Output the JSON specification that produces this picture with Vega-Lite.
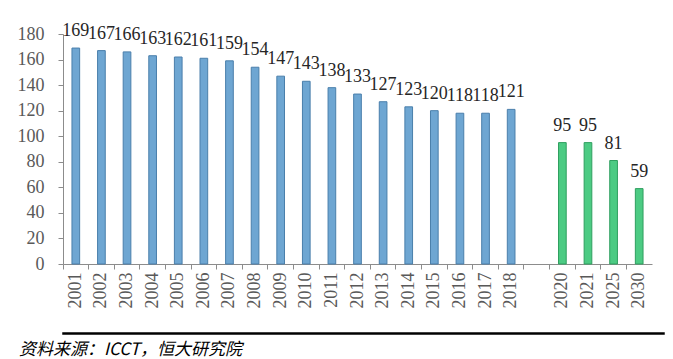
{
  "$schema": "https://vega.github.io/schema/vega-lite/v6.json",
  "background": "white",
  "padding": {"left": 5, "top": 22, "right": 8, "bottom": 5},
  "config": {"view": {"stroke": null}, "concat": {"spacing": 18}},
  "vconcat": [
    {
      "width": 589,
      "height": 230,
      "data": {"values": [
        {"year": "2001", "value": 169, "kind": "actual"},
        {"year": "2002", "value": 167, "kind": "actual"},
        {"year": "2003", "value": 166, "kind": "actual"},
        {"year": "2004", "value": 163, "kind": "actual"},
        {"year": "2005", "value": 162, "kind": "actual"},
        {"year": "2006", "value": 161, "kind": "actual"},
        {"year": "2007", "value": 159, "kind": "actual"},
        {"year": "2008", "value": 154, "kind": "actual"},
        {"year": "2009", "value": 147, "kind": "actual"},
        {"year": "2010", "value": 143, "kind": "actual"},
        {"year": "2011", "value": 138, "kind": "actual"},
        {"year": "2012", "value": 133, "kind": "actual"},
        {"year": "2013", "value": 127, "kind": "actual"},
        {"year": "2014", "value": 123, "kind": "actual"},
        {"year": "2015", "value": 120, "kind": "actual"},
        {"year": "2016", "value": 118, "kind": "actual"},
        {"year": "2017", "value": 118, "kind": "actual"},
        {"year": "2018", "value": 121, "kind": "actual"},
        {"year": "2020", "value": 95, "kind": "target"},
        {"year": "2021", "value": 95, "kind": "target"},
        {"year": "2025", "value": 81, "kind": "target"},
        {"year": "2030", "value": 59, "kind": "target"}
      ]},
      "encoding": {
        "x": {
          "field": "year", "type": "ordinal",
          "scale": {
            "domain": ["2001","2002","2003","2004","2005","2006","2007","2008","2009","2010","2011","2012","2013","2014","2015","2016","2017","2018","gap","2020","2021","2025","2030"],
            "paddingInner": 0, "paddingOuter": 0
          },
          "axis": {
            "title": null, "bandPosition": 0, "labelAngle": -90,
            "labelExpr": "datum.value == 'gap' ? '' : datum.value",
            "labelFont": "serif", "labelFontSize": 18, "labelColor": "#595959",
            "labelPadding": 3, "labelAlign": "right", "labelBaseline": "middle",
            "domainColor": "#8c8c8c", "tickColor": "#8c8c8c", "tickSize": 5, "grid": false
          }
        },
        "y": {
          "field": "value", "type": "quantitative",
          "scale": {"domain": [0, 180]},
          "axis": {
            "title": "\u00a0", "titleFontSize": 10, "titlePadding": 2,
            "values": [0,20,40,60,80,100,120,140,160,180],
            "labelFont": "serif", "labelFontSize": 18, "labelColor": "#595959",
            "labelPadding": 14,
            "domainColor": "#8c8c8c", "tickColor": "#8c8c8c", "tickSize": 5, "grid": false
          }
        }
      },
      "layer": [
        {
          "mark": {"type": "bar", "width": {"band": 0.3}, "strokeWidth": 1},
          "encoding": {
            "fill": {"field": "kind", "type": "nominal", "scale": {"domain": ["actual","target"], "range": ["#6ea6d2","#4ccb83"]}, "legend": null},
            "stroke": {"field": "kind", "type": "nominal", "scale": {"domain": ["actual","target"], "range": ["#4a7fab","#2f9f5f"]}, "legend": null}
          }
        },
        {
          "mark": {"type": "text", "baseline": "bottom", "dy": -8, "font": "serif", "fontSize": 18, "color": "#262626"},
          "encoding": {"text": {"field": "value", "type": "quantitative"}}
        }
      ]
    },
    {
      "width": 601,
      "height": 1,
      "view": {"stroke": "#000000", "strokeWidth": 1.5, "fill": "#000000"},
      "data": {"values": [{"note": ""}]},
      "mark": {"type": "text"},
      "encoding": {"text": {"field": "note"}},
      "title": {
        "text": "资料来源：ICCT，恒大研究院",
        "orient": "bottom", "anchor": "start", "offset": 3, "dx": -44,
        "font": "Noto Sans CJK SC", "fontSize": 17, "fontStyle": "italic", "fontWeight": "normal", "color": "#000000"
      }
    }
  ],
  "align": "none"
}
